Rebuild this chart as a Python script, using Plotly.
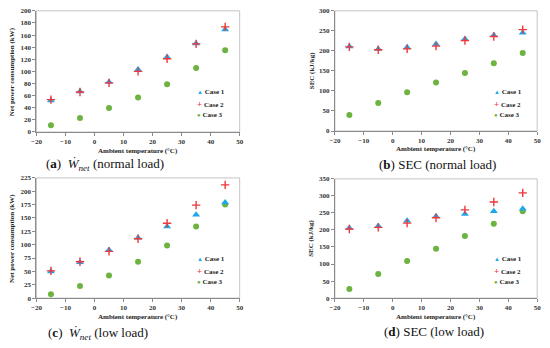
import plotly.graph_objects as go

# ---------------- data ----------------
temps = [-15, -5, 5, 15, 25, 35, 45]

# (a) Net power consumption, normal load (kW)
a_case1 = [52, 67, 82.5, 103, 124, 146, 169]
a_case2 = [53.5, 66, 81, 100, 121, 145.5, 173.5]
a_case3 = [11, 23, 39.5, 57, 79, 105.5, 135]

# (b) SEC, normal load (kJ/kg)
b_case1 = [211, 205, 209, 217, 230, 239, 245]
b_case2 = [210, 203, 205, 212, 226, 236, 253]
b_case3 = [40, 70, 97, 121, 145, 169, 195]

# (c) Net power consumption, low load (kW)
c_case1 = [50, 67, 90, 113, 134, 156, 179]
c_case2 = [51, 68, 87.5, 111, 140, 174, 212]
c_case3 = [7, 22.5, 42.5, 68, 98.5, 134, 175]

# (d) SEC, low load (kJ/kg)
d_case1 = [206, 212, 227, 240, 247, 255, 262]
d_case2 = [203, 207.5, 220, 236, 259, 282, 309]
d_case3 = [27, 71, 109, 145, 182, 218, 255]

case_names = ["Case 1", "Case 2", "Case 3"]
x_title = "Ambient temperature (°C)"
y_titles = ["Net power consumption (kW)", "SEC (kJ/kg)",
            "Net power consumption (kW)", "SEC (kJ/kg)"]
captions = ["(<b>a</b>)  <i>Ẇ</i><sub><i>net</i></sub> (normal load)",
            "(<b>b</b>) SEC (normal load)",
            "(<b>c</b>)  <i>Ẇ</i><sub><i>net</i></sub> (low load)",
            "(<b>d</b>) SEC (low load)"]
y_ranges = [(0, 200, 20), (0, 300, 50), (0, 225, 25), (0, 350, 50)]

# ---------------- style ----------------
W, H = 550, 348
BLUE = "#1ea8ea"
RED = "#f0373a"
GREEN = "#6cb33f"
SERIF = "Liberation Serif"

def px_x(p):
    return p / W

def px_y(p):
    return 1 - p / H

# plot-area pixel boxes: (left, right, top, bottom)
boxes = [(31, 238, 7, 131), (335, 541, 7, 130),
         (31, 238, 178, 301), (335, 541, 179, 301)]
xtitle_y = [150, 148, 320, 320]
ytitle_x = [7, 312, 6, 311]
cap_cx = [101, 439, 94, 436]
cap_cy = [164, 164, 337, 335]

panels = [(a_case1, a_case2, a_case3), (b_case1, b_case2, b_case3),
          (c_case1, c_case2, c_case3), (d_case1, d_case2, d_case3)]

fig = go.Figure()
layout = dict(width=W, height=H, margin=dict(l=0, r=0, t=0, b=0),
              paper_bgcolor="white", plot_bgcolor="white",
              showlegend=False, font=dict(family=SERIF, color="#222"))
shapes = []
annotations = []
title_font = dict(family=SERIF, size=7, weight="bold", color="#222")

for i, (series, box) in enumerate(zip(panels, boxes)):
    n = "" if i == 0 else str(i + 1)
    xa, ya = "x" + n, "y" + n
    c1, c2, c3 = series
    fig.add_trace(go.Scatter(x=temps, y=c3, mode="markers", name=case_names[2],
                             xaxis=xa, yaxis=ya,
                             marker=dict(symbol="circle", size=6, color=GREEN)))
    fig.add_trace(go.Scatter(x=temps, y=c1, mode="markers", name=case_names[0],
                             xaxis=xa, yaxis=ya,
                             marker=dict(symbol="triangle-up", size=7, color=BLUE)))
    fig.add_trace(go.Scatter(x=temps, y=c2, mode="markers", name=case_names[1],
                             xaxis=xa, yaxis=ya,
                             marker=dict(symbol="cross-thin", size=6,
                                         line=dict(color=RED, width=1.4))))
    l, r, t, b = box
    y0, y1, dt = y_ranges[i]
    tickfont = dict(family=SERIF, size=7, weight="bold", color="#333")
    layout["xaxis" + n] = dict(
        domain=[px_x(l), px_x(r)], anchor=ya, range=[-20, 50], dtick=10,
        showgrid=False, zeroline=False, showline=True, linecolor="#8a8a8a",
        linewidth=1, ticks="outside", ticklen=3, tickcolor="#8a8a8a",
        tickfont=tickfont)
    layout["yaxis" + n] = dict(
        domain=[px_y(b), px_y(t)], anchor=xa, range=[y0, y1], dtick=dt,
        showgrid=False, zeroline=False, showline=True, linecolor="#8a8a8a",
        linewidth=1, ticks="outside", ticklen=3, tickcolor="#8a8a8a",
        tickfont=tickfont)
    # light plot-area border (top / right)
    shapes.append(dict(type="rect", xref=xa + " domain", yref=ya + " domain",
                       x0=0, x1=1, y0=0, y1=1, layer="below",
                       line=dict(color="#c4c4c4", width=1)))
    # axis titles
    annotations.append(dict(
        xref="paper", yref="paper", x=px_x((l + r) / 2), y=px_y(xtitle_y[i]),
        xanchor="center", yanchor="middle", showarrow=False,
        text=x_title, font=title_font))
    annotations.append(dict(
        xref="paper", yref="paper", x=px_x(ytitle_x[i]), y=px_y((t + b) / 2),
        xanchor="center", yanchor="middle", showarrow=False, textangle=-90,
        text=y_titles[i], font=title_font))
    # legend built as text
    leg_x = l + 162 if i % 2 == 0 else l + 160
    leg_y0 = 90 if i < 2 else 261
    symbols = [("▲", BLUE, 6), ("+", RED, 9), ("●", GREEN, 6)]
    for k, (sym, col, ss) in enumerate(symbols):
        annotations.append(dict(
            xref="paper", yref="paper", x=px_x(leg_x), y=px_y(leg_y0 + k * 12),
            xanchor="left", yanchor="middle", showarrow=False,
            text=f"<span style='color:{col};font-size:{ss}px'>{sym}</span> {case_names[k]}",
            font=title_font))
    # caption
    annotations.append(dict(
        xref="paper", yref="paper", x=px_x(cap_cx[i]), y=px_y(cap_cy[i]),
        xanchor="center", yanchor="middle", showarrow=False,
        text=captions[i], font=dict(family=SERIF, size=13, color="#111")))

layout["shapes"] = shapes
layout["annotations"] = annotations
fig.update_layout(**layout)
fig.write_html("out.html",
               config={"displayModeBar": False},
               post_script="document.body.style.margin='0';"
                           "document.body.style.overflow='hidden';")
